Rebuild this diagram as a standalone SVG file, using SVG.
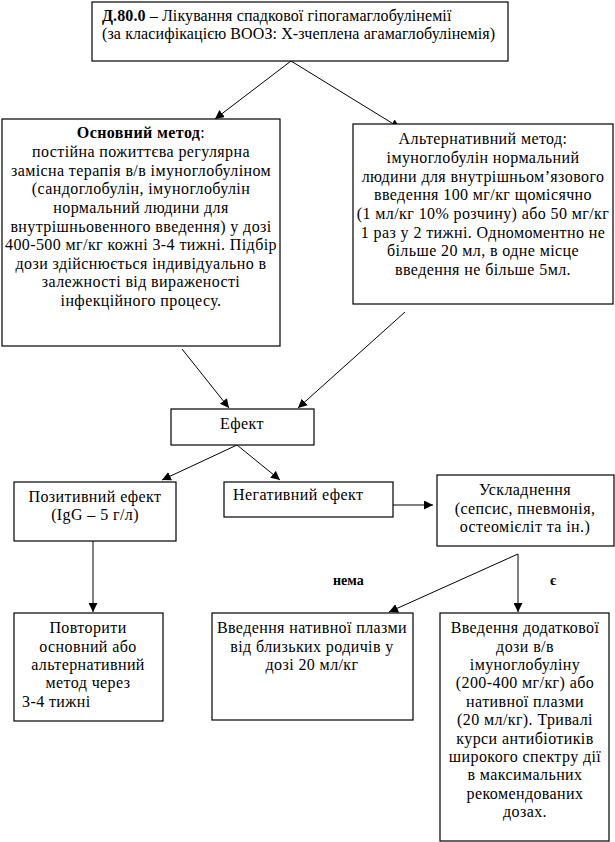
<svg xmlns="http://www.w3.org/2000/svg" width="615" height="842" viewBox="0 0 615 842">
<defs>
<marker id="arr" viewBox="0 0 10 10" refX="10" refY="5" markerWidth="9" markerHeight="9" markerUnits="userSpaceOnUse" orient="auto">
<path d="M0,0 L10,5 L0,10 z" fill="#000"/>
</marker>
<style>
.box{fill:#fff;stroke:#000;stroke-width:1.2}
.t{font-family:"Liberation Serif","Times New Roman",serif;font-size:16px;letter-spacing:0.4px;fill:#000}
.h{letter-spacing:0.1px}
.c{text-anchor:middle}
.b{font-weight:bold}
.ln{stroke:#000;stroke-width:1;fill:none;marker-end:url(#arr)}
</style>
</defs>
<rect width="615" height="842" fill="#fff"/>

<g id="connectors">
<line class="ln" x1="291" y1="61" x2="215" y2="119"/>
<line class="ln" x1="291" y1="61" x2="400" y2="128"/>
<line class="ln" x1="182" y1="349" x2="229" y2="408"/>
<line class="ln" x1="405" y1="312" x2="298" y2="408"/>
<line class="ln" x1="237" y1="445" x2="162" y2="480"/>
<line class="ln" x1="237" y1="445" x2="280" y2="480"/>
<line class="ln" x1="393" y1="505" x2="433" y2="505"/>
<line class="ln" x1="93" y1="541" x2="93" y2="612"/>
<line class="ln" x1="518" y1="554" x2="518" y2="612"/>
<line class="ln" x1="518" y1="554" x2="389" y2="612"/>
</g>

<g id="title">
<rect class="box" x="92" y="2" width="416" height="59"/>
<text class="t h" x="102" y="21"><tspan class="b">Д.80.0</tspan> – Лікування спадкової гіпогамаглобулінемії</text>
<text class="t h" x="102" y="39">(за класифікацією ВООЗ: Х-зчеплена агамаглобулінемія)</text>
</g>

<g id="main-method">
<rect class="box" x="2" y="119" width="278" height="227"/>
<text class="t c" x="141" y="138"><tspan class="b">Основний метод</tspan>:</text>
<text class="t c" x="141" y="157">постійна пожиттєва регулярна</text>
<text class="t c" x="141" y="176">замісна терапія в/в імуноглобуліном</text>
<text class="t c" x="141" y="194">(сандоглобулін, імуноглобулін</text>
<text class="t c" x="141" y="213">нормальний людини для</text>
<text class="t c" x="141" y="232">внутрішньовенного введення) у дозі</text>
<text class="t c" x="141" y="250">400-500 мг/кг кожні 3-4 тижні. Підбір</text>
<text class="t c" x="141" y="269">дози здійснюється індивідуально в</text>
<text class="t c" x="141" y="287">залежності від вираженості</text>
<text class="t c" x="141" y="306">інфекційного процесу.</text>
</g>

<g id="alt-method">
<rect class="box" x="353" y="124" width="260" height="180"/>
<text class="t c" x="483" y="144">Альтернативний метод:</text>
<text class="t c" x="483" y="163">імуноглобулін нормальний</text>
<text class="t c" x="483" y="182">людини для внутрішньом’язового</text>
<text class="t c" x="483" y="200">введення 100 мг/кг щомісячно</text>
<text class="t c" x="483" y="219">(1 мл/кг 10% розчину) або 50 мг/кг</text>
<text class="t c" x="483" y="238">1 раз у 2 тижні. Одномоментно не</text>
<text class="t c" x="483" y="256">більше 20 мл, в одне місце</text>
<text class="t c" x="483" y="275">введення не більше 5мл.</text>
</g>

<g id="effect">
<rect class="box" x="171" y="409" width="143" height="36"/>
<text class="t c" x="242" y="429">Ефект</text>
</g>

<g id="positive">
<rect class="box" x="14" y="482" width="162" height="59"/>
<text class="t c" x="95" y="502">Позитивний ефект</text>
<text class="t c" x="95" y="520">(IgG – 5 г/л)</text>
</g>

<g id="negative">
<rect class="box" x="224" y="482" width="169" height="35"/>
<text class="t" x="233" y="500">Негативний ефект</text>
</g>

<g id="complications">
<rect class="box" x="437" y="475" width="177" height="71"/>
<text class="t c" x="525" y="495">Ускладнення</text>
<text class="t c" x="525" y="514">(сепсис, пневмонія,</text>
<text class="t c" x="525" y="532">остеомієліт та ін.)</text>
</g>

<g id="label-nema">
<text class="t b" x="333" y="585" style="font-size:14px;letter-spacing:0">нема</text>
</g>
<g id="label-ye">
<text class="t b" x="550" y="585" style="font-size:14px;letter-spacing:0">є</text>
</g>

<g id="repeat">
<rect class="box" x="14" y="613" width="149" height="108"/>
<text class="t c" x="88" y="633">Повторити</text>
<text class="t c" x="88" y="652">основний або</text>
<text class="t c" x="88" y="670">альтернативний</text>
<text class="t c" x="88" y="688">метод через</text>
<text class="t" x="22" y="707">3-4 тижні</text>
</g>

<g id="plasma">
<rect class="box" x="212" y="613" width="201" height="107"/>
<text class="t c" x="312" y="633">Введення нативної плазми</text>
<text class="t c" x="312" y="652">від близьких родичів у</text>
<text class="t c" x="312" y="670">дозі 20 мл/кг</text>
</g>

<g id="extra-dose">
<rect class="box" x="440" y="613" width="169" height="228"/>
<text class="t c" x="525" y="633">Введення додаткової</text>
<text class="t c" x="525" y="652">дози в/в</text>
<text class="t c" x="525" y="670">імуноглобуліну</text>
<text class="t c" x="525" y="688">(200-400 мг/кг) або</text>
<text class="t c" x="525" y="707">нативної плазми</text>
<text class="t c" x="525" y="725">(20 мл/кг). Тривалі</text>
<text class="t c" x="525" y="744">курси антибіотиків</text>
<text class="t c" x="525" y="762">широкого спектру дії</text>
<text class="t c" x="525" y="780">в максимальних</text>
<text class="t c" x="525" y="799">рекомендованих</text>
<text class="t c" x="525" y="817">дозах.</text>
</g>
</svg>
